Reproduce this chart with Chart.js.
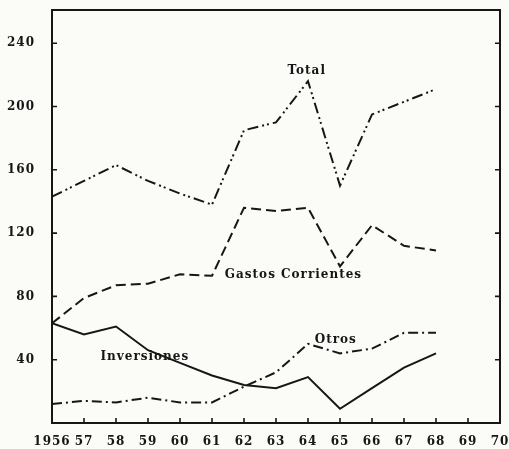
<!DOCTYPE html>
<html>
<head>
<meta charset="utf-8">
<script src="https://cdn.jsdelivr.net/npm/chart.js@4/dist/chart.umd.min.js"></script>
<style>
	html, body {
		margin: 0;
		padding: 0;
		background: #fbfbf8;
	}
	.chart-box {
		width: 509px;
		height: 449px;
	}
</style>
</head>
<body>
<div class="chart-box">
	<canvas id="gasto-chart"></canvas>
</div>
<script>
const years = [1956, 1957, 1958, 1959, 1960, 1961, 1962, 1963, 1964, 1965, 1966, 1967, 1968];
const total = [143, 153, 163, 153, 145, 138, 185, 190, 216, 150, 195, 203, 211];
const gastosCorrientes = [63, 79, 87, 88, 94, 93, 136, 134, 136, 99, 125, 112, 109];
const inversiones = [63, 56, 61, 46, 38, 30, 24, 22, 29, 9, 22, 35, 44];
const otros = [12, 14, 13, 16, 13, 13, 23, 32, 50, 44, 47, 57, 57];

const yTicks = [40, 80, 120, 160, 200, 240];
const xTicks = [1956, 1957, 1958, 1959, 1960, 1961, 1962, 1963, 1964, 1965, 1966, 1967, 1968, 1969, 1970];
const xTickLabels = ['1956', '57', '58', '59', '60', '61', '62', '63', '64', '65', '66', '67', '68', '69', '70'];

const INK = '#161616';
const FONT = 'DejaVu Serif';

const toPoints = (values) => values.map((v, i) => ({ x: years[i], y: v }));

// names written next to each curve, anchored in data units
const curveNames = [
	{ text: 'Total', x: 1963.96, y: 222.5, align: 'center' },
	{ text: 'Gastos Corrientes', x: 1961.4, y: 93.5, align: 'left' },
	{ text: 'Otros', x: 1964.87, y: 52.5, align: 'center' },
	{ text: 'Inversiones', x: 1958.9, y: 41.5, align: 'center' },
];

const framePlugin = {
	id: 'frame',
	beforeDraw(chart) {
		chart.ctx.letterSpacing = '1px';
	},
	afterDatasetsDraw(chart) {
		const { ctx, chartArea: a, scales } = chart;
		const tick = 5;
		ctx.save();
		ctx.strokeStyle = INK;
		ctx.lineWidth = 2;
		ctx.strokeRect(a.left, a.top, a.right - a.left, a.bottom - a.top);

		ctx.lineWidth = 1.6;
		ctx.beginPath();
		yTicks.forEach((v) => {
			const y = scales.y.getPixelForValue(v);
			ctx.moveTo(a.left, y);
			ctx.lineTo(a.left + tick, y);
			ctx.moveTo(a.right, y);
			ctx.lineTo(a.right - tick, y);
		});
		xTicks.slice(1, -1).forEach((v) => {
			const x = scales.x.getPixelForValue(v);
			ctx.moveTo(x, a.bottom);
			ctx.lineTo(x, a.bottom - tick);
		});
		ctx.stroke();

		ctx.fillStyle = INK;
		ctx.font = `bold 12px "${FONT}"`;
		ctx.textBaseline = 'middle';
		ctx.letterSpacing = '1px';
		curveNames.forEach(({ text, x, y, align }) => {
			ctx.textAlign = align;
			ctx.fillText(text, scales.x.getPixelForValue(x), scales.y.getPixelForValue(y));
		});
		ctx.restore();
	},
};

const lineStyle = (dash) => ({
	borderColor: INK,
	borderWidth: 2,
	borderDash: dash,
	pointRadius: 0,
	tension: 0,
	fill: false,
});

new Chart(document.getElementById('gasto-chart'), {
	type: 'line',
	data: {
		datasets: [
			{ label: 'Total', data: toPoints(total), ...lineStyle([11, 4, 2, 3, 2, 4]) },
			{ label: 'Gastos Corrientes', data: toPoints(gastosCorrientes), ...lineStyle([10, 5]) },
			{ label: 'Inversiones', data: toPoints(inversiones), ...lineStyle([]) },
			{ label: 'Otros', data: toPoints(otros), ...lineStyle([10, 4, 2, 4]) },
		],
	},
	options: {
		responsive: true,
		maintainAspectRatio: false,
		animation: false,
		layout: {
			padding: { top: 10, right: 9, left: 0, bottom: 0 },
		},
		plugins: {
			legend: { display: false },
			tooltip: { enabled: false },
		},
		scales: {
			x: {
				type: 'linear',
				min: 1956,
				max: 1970,
				afterBuildTicks: (scale) => {
					scale.ticks = xTicks.map((v) => ({ value: v }));
				},
				afterFit: (scale) => {
					scale.height = 26;
					scale.paddingLeft = 0;
					scale.paddingRight = 0;
				},
				grid: { display: false, drawTicks: false },
				border: { display: false },
				ticks: {
					padding: 12,
					color: INK,
					font: { family: FONT, size: 12, weight: 'bold' },
					maxRotation: 0,
					autoSkip: false,
					callback: (v) => xTickLabels[xTicks.indexOf(v)],
				},
			},
			y: {
				min: 0,
				max: 261,
				afterBuildTicks: (scale) => {
					scale.ticks = yTicks.map((v) => ({ value: v }));
				},
				afterFit: (scale) => {
					scale.width = 52;
					scale.paddingTop = 0;
					scale.paddingBottom = 0;
				},
				grid: { display: false, drawTicks: false },
				border: { display: false },
				ticks: {
					padding: 17,
					color: INK,
					font: { family: FONT, size: 12, weight: 'bold' },
				},
			},
		},
	},
	plugins: [framePlugin],
});
</script>
</body>
</html>
